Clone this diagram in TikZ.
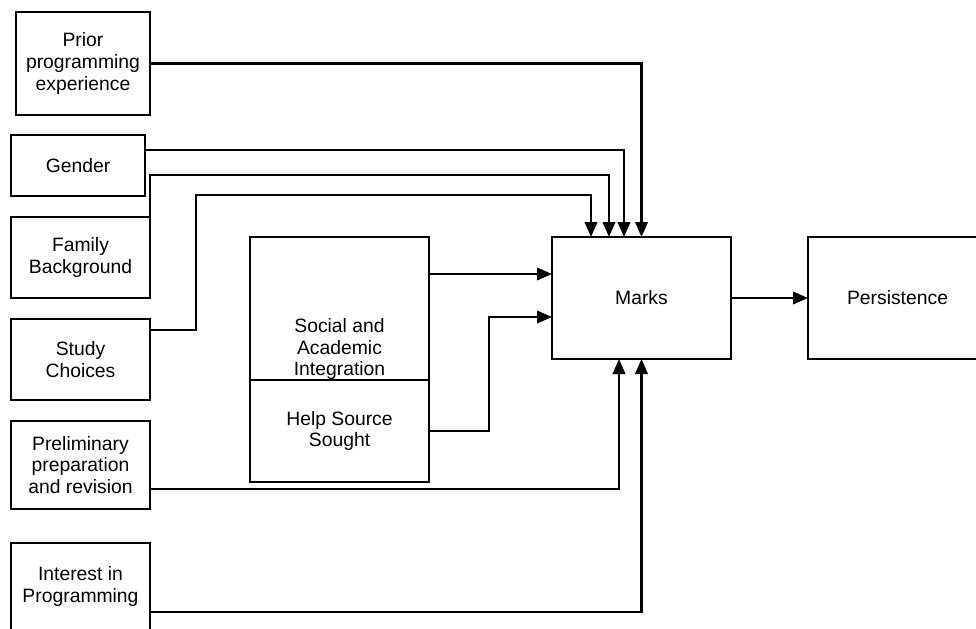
\documentclass[tikz,border=0pt]{standalone}
\usepackage{fontspec}
\setmainfont{Liberation Sans}
\usepackage{tikz}
\usetikzlibrary{positioning, calc}
\usetikzlibrary{arrows.meta}

\begin{document}
\begin{tikzpicture}[
    box/.style={rectangle, draw, line width=1.2pt, align=center, inner sep=2pt, outer sep=0pt, font=\fontsize{11pt}{12.3pt}\selectfont},
    factor/.style={box, minimum width=2.78cm, minimum height=1.62cm},
    outcome/.style={box, minimum width=3.58cm, minimum height=2.44cm},
    txt/.style={inner sep=0pt, align=center, font=\fontsize{11pt}{12.3pt}\selectfont},
    line/.style={draw, line width=1.2pt, -{Triangle[length=0.3cm, width=0.25cm]}}
]
    \useasboundingbox (0,0) rectangle (19.52,-12.56);

    % Factors
    \node[factor, minimum width=2.68cm, minimum height=2.06cm] (prior) at (1.66,-1.27) {Prior\\programming\\experience};
    \node[factor, minimum width=2.68cm, minimum height=1.22cm, below=0.4cm of prior, xshift=-0.1cm] (gender) {Gender};
    \node[factor, below=0.42cm of gender, xshift=0.05cm] (family) {Family\\Background};
    \node[factor, below=0.42cm of family] (study) {Study\\Choices};
    \node[factor, minimum height=1.76cm, below=0.42cm of study] (prelim) {Preliminary\\preparation\\and revision};
    \node[factor, minimum height=1.74cm, below=0.68cm of prelim] (interest) {Interest in\\Programming};

    % Outcomes
    \node[outcome] (marks) at (12.83,-5.96) {Marks};
    \node[outcome, right=1.54cm of marks] (persist) {Persistence};

    % Integration
    \node[box, minimum width=3.58cm, minimum height=2.86cm, left=2.46cm of marks.north west, anchor=north east] (social) {};
    \node[txt, above=0pt of social.south] (socialtxt) {Social and\\Academic\\Integration};
    \node[box, minimum width=3.58cm, minimum height=2.04cm, below=0pt of social] (help) {Help Source\\Sought};

    \path[line] (prior) -| (marks);
    \path[line] ([yshift=0.31cm]gender.east) -| ([xshift=-0.35cm]marks.north);
    \path[line] (family.north east) -- ++(0,0.84) -| ([xshift=-0.65cm]marks.north);
    \path[line] ([yshift=0.59cm]study.east) -- ++(0.92,0) -- ++(0,2.7) -| ([xshift=-1.01cm]marks.north);
    \path[line] ([yshift=0.69cm]social.east) -- ([yshift=0.69cm]social.east -| marks.west);
    \path[line] (help.east) -- ++(1.2,0) |- ([yshift=-0.38cm]marks.west);
    \path[line] ([yshift=-0.48cm]prelim.east) -| ([xshift=-0.45cm]marks.south);
    \path[line] ([yshift=-0.51cm]interest.east) -| (marks.south);
    \path[line] (marks) -- (persist);
\end{tikzpicture}
\end{document}
